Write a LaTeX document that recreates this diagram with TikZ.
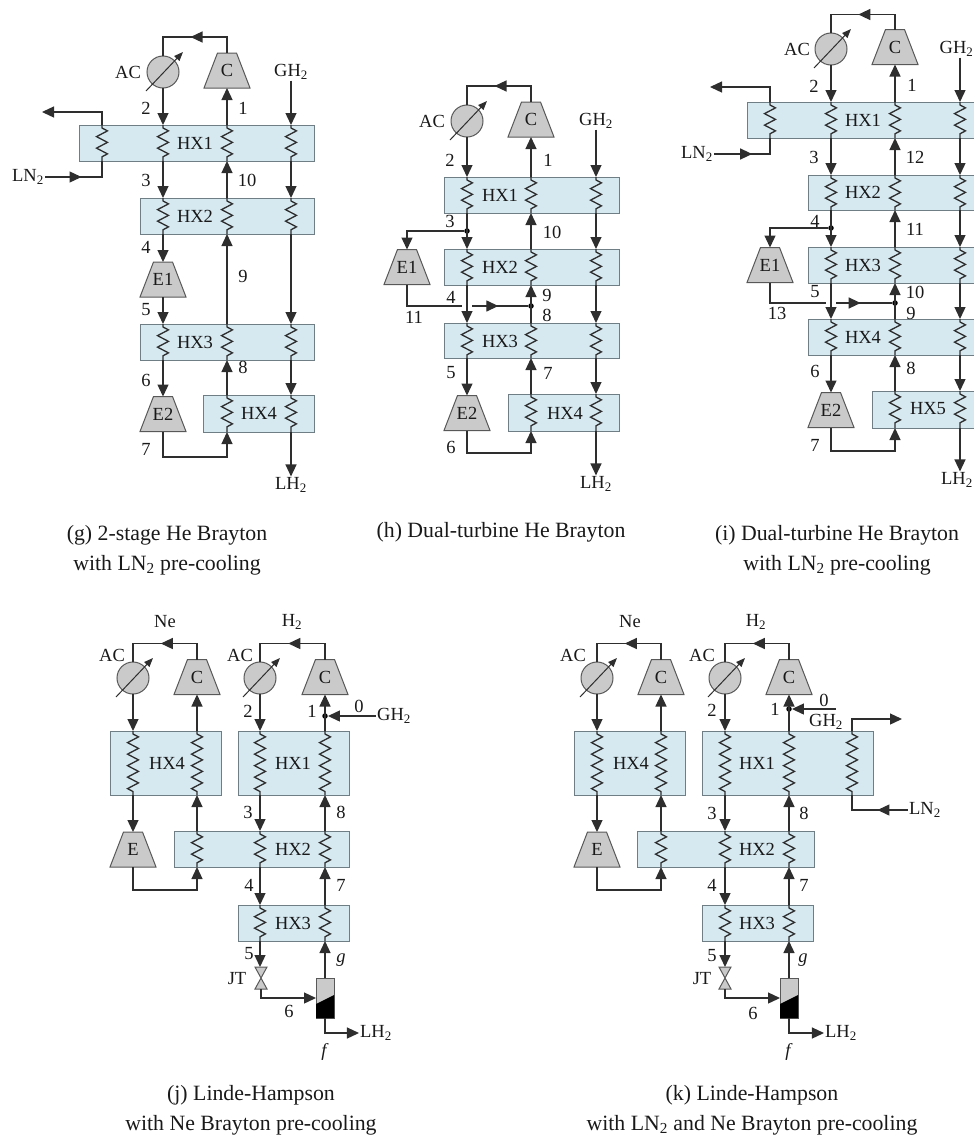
\documentclass[tikz,border=0pt]{standalone}
\usepackage{fontspec}
\setmainfont{Liberation Serif}
\usepackage{tikz}
\usetikzlibrary{arrows.meta,calc,decorations.markings,decorations.pathmorphing}
\definecolor{hxfill}{HTML}{D6E9F1}
\definecolor{hxedge}{HTML}{6E7E84}
\definecolor{mfill}{HTML}{CACACA}
\definecolor{ink}{HTML}{2E2E2E}
\newcommand{\lfont}{\fontsize{18.5}{20}\selectfont}
\newcommand{\cfont}{\fontsize{21.8}{24}\selectfont}
\tikzset{
  lab/.style={font=\lfont,inner sep=1pt,text=black!90},
  capt/.style={font=\cfont,inner sep=0pt,align=center,text=black!90},
  hxbox/.style={draw=hxedge,fill=hxfill,line width=1pt,inner sep=0pt,outer sep=0pt},
  machine/.style={minimum width=46pt,minimum height=35pt,inner sep=0pt,outer sep=0pt},
  valve/.style={draw=ink!80,fill=mfill,line width=1pt},
  cooler/.style={circle,draw=ink!80,fill=mfill,line width=1pt,minimum size=32pt,inner sep=0pt,outer sep=0pt},
  dot/.style={circle,fill=black,inner sep=0pt,minimum size=5.5pt},
  flowline/.style={draw=ink,line width=1.3pt},
  flow/.style={flowline,-{Triangle[length=12pt,width=11pt]}},
  midarrow/.style={flowline,postaction={decorate},decoration={markings,mark=at position #1 with {\arrow{Triangle[length=12pt,width=11pt]}}}},
  coil/.style={flowline,decorate,decoration={zigzag,amplitude=5.5pt,segment length=11.5pt,pre length=3pt,post length=3pt}},
  ctrl/.style={draw=ink,line width=1pt,-{Triangle[length=9pt,width=7pt]}}
}
\begin{document}
\begin{tikzpicture}[x=1pt,y=-1pt]
\useasboundingbox (0,0) rectangle (974,1136);
\clip (0,0) rectangle (974,1136);
% HX boxes: name, left, right, top, bottom
\foreach \n/\xl/\xr/\yt/\yb in {g1/79/314/125/161,g2/140/314/198/234,g3/140/314/324/360,g4/203/314/395/432,
  h1/444/619/177/213,h2/444/619/249/285,h3/444/619/323/358,h4/508/619/394/431,
  i1/747/983/102/138,i2/808/983/175/210,i3/808/983/247/283,i4/808/983/319/355,i5/872/983/391/428,
  j4/110/221/731/795,j1/238/349/731/795,j2/174/349/831/867,j3/238/349/905/941,
  k4/574/685/731/795,k1/702/873/731/795,k2/637/814/831/867,k3/702/813/905/941} {
  \node[hxbox,minimum width=\xr pt-\xl pt,minimum height=\yb pt-\yt pt] (\n) at ({(\xl+\xr)/2},{(\yt+\yb)/2}) {};
}
% Compressors and expanders
\foreach \n/\t/\x/\y in {gc/C/227/70.5,ge1/E1/163/279.5,ge2/E2/163/414,
  hc/C/531/119.5,he1/E1/407/267,he2/E2/467/413,
  ic/C/895/47,ie1/E1/770/265,ie2/E2/831/410,
  jcn/C/197/677,jcb/C/325/677,je/E/133/849.5,
  kcn/C/661/677,kcb/C/789/677,ke/E/597/849.5} {
  \node[machine] (\n) at (\x,\y) {};
  \draw[valve] (\n.south west) -- (\n.south east) -- ($(\n.north east)+(-13.5,0)$) -- ($(\n.north west)+(13.5,0)$) -- cycle;
  \node[lab] (\n t) at (\n) {\t};
}
% After-coolers
\foreach \n/\x/\y in {gac/163/72,hac/467/121,iac/831/49,jan/133/678,jah/260/678,kan/597/678,kah/725/678} {
  \node[cooler] (\n) at (\x,\y) {};
  \draw[ctrl] ($(\n)+(-17,19)$) -- ($(\n)+(20,-20)$);
}
% Fixed texts
\foreach \n/\t/\x/\y in {ggh/GH\textsubscript{2}/291/72,glh/LH\textsubscript{2}/291/485,gln/LN\textsubscript{2}/28/177,
  hgh/GH\textsubscript{2}/596/121,hlh/LH\textsubscript{2}/596/484,
  igh/GH\textsubscript{2}/956.5/49,ilh/LH\textsubscript{2}/957/480,iln/LN\textsubscript{2}/697/154,
  jgh/GH\textsubscript{2}/394/716,jlh/LH\textsubscript{2}/376/1033,
  kgh/GH\textsubscript{2}/826/722,kln/LN\textsubscript{2}/925/810,klh/LH\textsubscript{2}/841/1033} {
  \node[lab] (\n) at (\x,\y) {\t};
}
% Labels
\foreach \t/\x/\y [count=\k] in {AC/128/72,HX1/195/143,HX2/195/216,HX3/195/342,HX4/259/413,1/243/108,2/146/108,3/146/180,4/146/247,5/146/310,6/146/380,7/146/449,8/243/367,9/243/276,10/247/180,
  AC/432/121,HX1/500/195,HX2/500/267,HX3/500/341,HX4/565/413,1/548/160,2/450/160,3/450/221,4/451/297,5/451/373,6/451/447,7/548/373,8/547/315,9/547/295,10/552/232,11/414/317,
  AC/797/49,HX1/863/120,HX2/863/192,HX3/863/265,HX4/863/337,HX5/928/409,1/912/85,2/814/86,3/814/157,4/815/221,5/815/292,6/815/371,7/815/445,8/911/368,9/911/313,10/915/292,11/915/229,12/915/157,13/777/313,
  Ne/165/622,H\textsubscript{2}/292/622,AC/112/655,AC/240/655,HX4/167/763,HX1/293/763,HX2/293/849,HX3/293/923,0/359/706,1/312/711,2/248/711,3/248/812,4/249/885,5/249/954,6/289/1011,7/341/885,8/341/812,JT/237/979,\textit{g}/341/960,\textit{f}/325/1052,
  Ne/630/622,H\textsubscript{2}/756/622,AC/573/655,AC/702/655,HX4/631/763,HX1/757/763,HX2/757/849,HX3/757/923,0/824/700,1/775/709,2/712/710,3/712/813,4/712/885,5/712/956,6/753/1013,7/804/885,8/804/813,JT/702/979,\textit{g}/803/960,\textit{f}/789/1052} {
  \node[lab] (lab\k) at (\x,\y) {\t};
}
% Captions
\node[capt] (capg) at (167,550) {(g) 2-stage He Brayton\\[6pt]with LN\textsubscript{2} pre-cooling};
\node[capt] (caph) at (501,532) {(h) Dual-turbine He Brayton};
\node[capt] (capi) at (837,550) {(i) Dual-turbine He Brayton\\[6pt]with LN\textsubscript{2} pre-cooling};
\node[capt] (capj) at (251,1110.5) {(j) Linde-Hampson\\[6pt]with Ne Brayton pre-cooling};
\node[capt] (capk) at (752,1110.5) {(k) Linde-Hampson\\[6pt]with LN\textsubscript{2} and Ne Brayton pre-cooling};
% Helper points
\coordinate (gnx) at (102,143);
\coordinate (gout) at (42,112);
\coordinate (gb) at (227,457);
\coordinate (hb) at (531,453);
\coordinate (hgapa) at (462,306);
\coordinate (hgapb) at (472,306);
\coordinate (inx) at (770,120);
\coordinate (igx) at (960,120);
\coordinate (iout) at (710,87);
\coordinate (ib) at (895,451);
\coordinate (igapa) at (826,303);
\coordinate (igapb) at (836,303);
\coordinate (jbn) at (197,890);
\coordinate (knx) at (852,763);
\coordinate (kout) at (902,719);
\coordinate (kbn) at (661,890);
\coordinate (kg) at (836,709);
\node[dot] (hj1) at (467,231) {};
\node[dot] (hj2) at (531,306) {};
\node[dot] (ij1) at (831,228) {};
\node[dot] (ij2) at (895,303) {};
\node[dot] (jj) at (325,716) {};
\node[dot] (kj) at (789,709) {};
% JT valves and separators
\foreach \n/\x/\s in {j/261/325,k/725/789} {
  \node[minimum width=12pt,minimum height=22pt,inner sep=0pt,outer sep=0pt] (\n jt) at (\x,978) {};
  \draw[valve] (\n jt.north west) -- (\n jt.north east) -- (\n jt.south west) -- (\n jt.south east) -- cycle;
  \node[valve,minimum width=18pt,minimum height=40pt,inner sep=0pt,outer sep=0pt] (\n sep) at (\s,998) {};
  \fill[black] (\n sep.south west) -- ++(0,-14) -- ($(\n sep.south east)+(0,-23)$) -- (\n sep.south east) -- cycle;
}
% Coils
\foreach \b/\s in {g1/gnx,g1/gac,g1/gc,g1/ggh,g2/gac,g2/gc,g2/ggh,g3/gac,g3/gc,g3/ggh,g4/gc,g4/ggh,
  h1/hac,h1/hc,h1/hgh,h2/hac,h2/hc,h2/hgh,h3/hac,h3/hc,h3/hgh,h4/hc,h4/hgh,
  i1/inx,i1/iac,i1/ic,i1/igx,i2/iac,i2/ic,i2/igx,i3/iac,i3/ic,i3/igx,i4/iac,i4/ic,i4/igx,i5/ic,i5/igx,
  j4/jan,j4/jcn,j1/jah,j1/jcb,j2/jcn,j2/jah,j2/jcb,j3/jah,j3/jcb,
  k4/kan,k4/kcn,k1/kah,k1/kcb,k1/knx,k2/kcn,k2/kah,k2/kcb,k3/kah,k3/kcb} {
  \draw[coil] (\b.north -| \s) -- (\b.south -| \s);
}
% (g) streams
\foreach \a/\b/\s in {gac.south/g1.north/gac,g1.south/g2.north/gac,g2.south/ge1.north/gac,ge1.south/g3.north/gac,g3.south/ge2.north/gac,
  g4.north/g3.south/gc,g3.north/g2.south/gc,g2.north/g1.south/gc,g1.north/gc.south/gc,
  ggh.south/g1.north/ggh,g1.south/g2.north/ggh,g2.south/g3.north/ggh,g3.south/g4.north/ggh,g4.south/glh.north/ggh} {
  \draw[flow] (\a -| \s) -- (\b -| \s);
}
\draw[midarrow=.53] (gc.north) -- ++(0,-16) -| (gac.north);
\draw[flow] (ge2.south) |- (gb) -- (g4.south -| gc);
\draw[midarrow=.5] (gln.east) -| (g1.south -| gnx);
\draw[flow] (g1.north -| gnx) |- (gout);
% (h) streams
\foreach \a/\b/\s in {hac.south/h1.north/hac,h1.south/h2.north/hac,h2.south/h3.north/hac,h3.south/he2.north/hac,
  h4.north/h3.south/hc,h3.north/h2.south/hc,h2.north/h1.south/hc,h1.north/hc.south/hc,
  hgh.south/h1.north/hgh,h1.south/h2.north/hgh,h2.south/h3.north/hgh,h3.south/h4.north/hgh,h4.south/hlh.north/hgh} {
  \draw[flow] (\a -| \s) -- (\b -| \s);
}
\draw[midarrow=.53] (hc.north) -- ++(0,-16) -| (hac.north);
\draw[flow] (hj1) -| (he1.north);
\draw[flowline] (he1.south) |- (hgapa);
\draw[midarrow=.47] (hgapb) -- (hj2);
\draw[flow] (he2.south) |- (hb) -- (h4.south -| hc);
% (i) streams
\foreach \a/\b/\s in {iac.south/i1.north/iac,i1.south/i2.north/iac,i2.south/i3.north/iac,i3.south/i4.north/iac,i4.south/ie2.north/iac,
  i5.north/i4.south/ic,i4.north/i3.south/ic,i3.north/i2.south/ic,i2.north/i1.south/ic,i1.north/ic.south/ic,
  igh.south/i1.north/igx,i1.south/i2.north/igx,i2.south/i3.north/igx,i3.south/i4.north/igx,i4.south/i5.north/igx,i5.south/ilh.north/igx} {
  \draw[flow] (\a -| \s) -- (\b -| \s);
}
\draw[midarrow=.53] (ic.north) -- ++(0,-15) -| (iac.north);
\draw[midarrow=.53] (iln.east) -| (i1.south -| inx);
\draw[flow] (i1.north -| inx) |- (iout);
\draw[flow] (ij1) -| (ie1.north);
\draw[flowline] (ie1.south) |- (igapa);
\draw[midarrow=.44] (igapb) -- (ij2);
\draw[flow] (ie2.south) |- (ib) -- (i5.south -| ic);
% (j) streams
\foreach \a/\b/\s in {jan.south/j4.north/jan,j4.south/je.north/jan,j2.north/j4.south/jcn,j4.north/jcn.south/jcn,
  jah.south/j1.north/jah,j1.south/j2.north/jah,j2.south/j3.north/jah,j3.south/jjt.north/jah,
  jsep.north/j3.south/jcb,j3.north/j2.south/jcb,j2.north/j1.south/jcb,j1.north/jcb.south/jcb} {
  \draw[flow] (\a -| \s) -- (\b -| \s);
}
\foreach \c/\e in {jcn/jan,jcb/jah} {
  \draw[midarrow=.53] (\c.north) -- ++(0,-16) -| (\e.north);
}
\draw[flow] (je.south) |- (jbn) -- (j2.south -| jcn);
\draw[flow] (jjt.south) |- (jsep.west);
\draw[flow] (jgh.west) -- (jj.east);
\draw[flow] (jsep.south) |- (jlh.west);
% (k) streams
\foreach \a/\b/\s in {kan.south/k4.north/kan,k4.south/ke.north/kan,k2.north/k4.south/kcn,k4.north/kcn.south/kcn,
  kah.south/k1.north/kah,k1.south/k2.north/kah,k2.south/k3.north/kah,k3.south/kjt.north/kah,
  ksep.north/k3.south/kcb,k3.north/k2.south/kcb,k2.north/k1.south/kcb,k1.north/kcb.south/kcb} {
  \draw[flow] (\a -| \s) -- (\b -| \s);
}
\foreach \c/\e in {kcn/kan,kcb/kah} {
  \draw[midarrow=.53] (\c.north) -- ++(0,-16) -| (\e.north);
}
\draw[flow] (ke.south) |- (kbn) -- (k2.south -| kcn);
\draw[flow] (kjt.south) |- (ksep.west);
\draw[flow] (kg) -- (kj.east);
\draw[flow] (ksep.south) |- (klh.west);
\draw[midarrow=.43] (kln.west) -| (k1.south -| knx);
\draw[flow] (k1.north -| knx) |- (kout);
\end{tikzpicture}
\end{document}
